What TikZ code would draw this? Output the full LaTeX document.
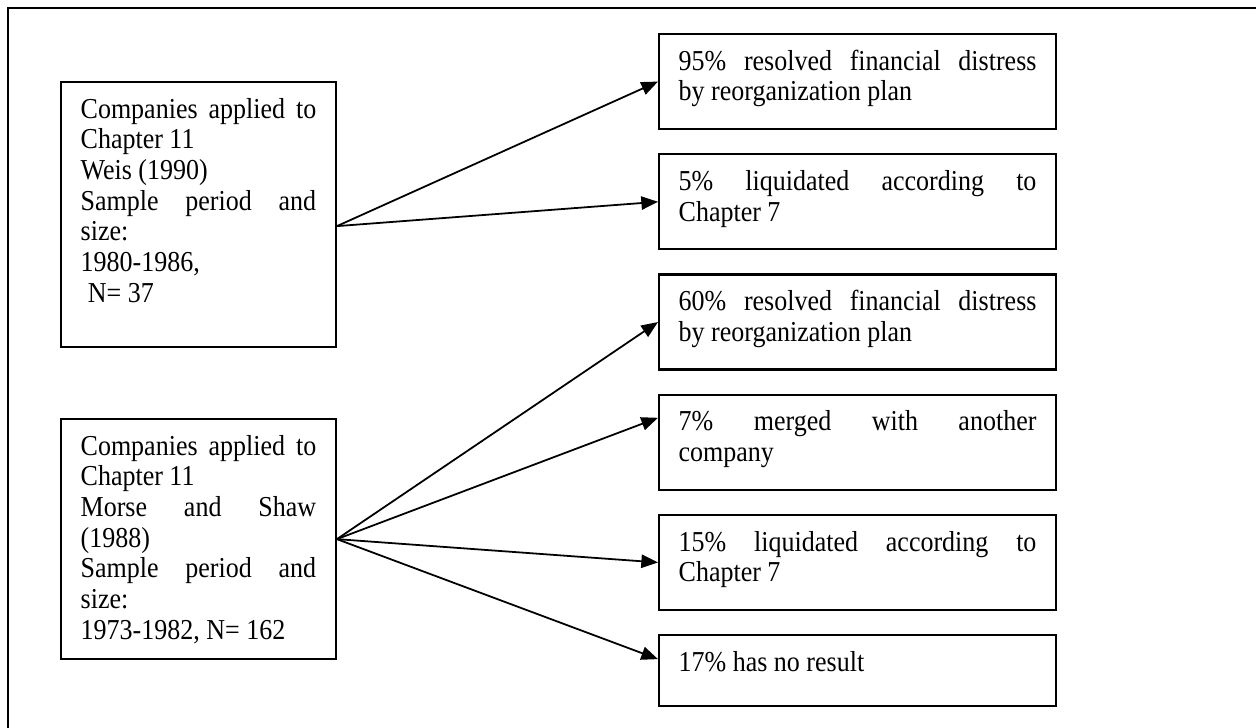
\documentclass[tikz,border=0pt]{standalone}
\usepackage{fontspec}
\setmainfont[FakeStretch=0.9]{Liberation Serif}
\usetikzlibrary{positioning,arrows.meta}
\tolerance=10000
\hyphenpenalty=10000

\begin{document}
\begin{tikzpicture}[x=0.45pt,y=-0.45pt,
    box/.style={draw,line width=1pt,anchor=north west,align=justify,inner xsep=8.8pt,inner ysep=7pt,text height=9.2pt,font=\fontsize{13pt}{13.8pt}\selectfont},
    srcbox/.style={box,text width=106pt},
    outbox/.style={box,text width=161pt},
    arr/.style={-{Triangle[length=7.5pt,width=6pt]},line width=0.8pt}]
    \useasboundingbox (0,0) rectangle (1256,727);
    \clip (0,0) rectangle (1256,727);
    \draw[line width=1pt] (8,8) rectangle (1300,800);
    \node[srcbox,text depth=96pt] (weis) at (60,81) {Companies applied to\linebreak Chapter 11\\ Weis (1990)\\ Sample period and\linebreak size:\\ 1980-1986,\\ \hspace*{.25em}N= 37};
    \node[srcbox,text depth=84.8pt] (morse) at (60,418) {Companies applied to\linebreak Chapter 11\\ Morse and Shaw\linebreak (1988)\\ Sample period and\linebreak size:\\ 1973-1982, N= 162};
    \node[outbox,text depth=19.5pt] (w95) at (658,33) {95\% resolved financial distress\linebreak by reorganization plan};
    \node[outbox,text depth=19.5pt,below=10.4pt of w95] (w5) {5\% liquidated according to\linebreak Chapter 7};
    \node[outbox,text depth=19.5pt,below=10.4pt of w5] (m60) {60\% resolved financial distress\linebreak by reorganization plan};
    \node[outbox,text depth=19.5pt,below=10.4pt of m60] (m7) {7\% merged with another\linebreak company};
    \node[outbox,text depth=19.5pt,below=10.4pt of m7] (m15) {15\% liquidated according to\linebreak Chapter 7};
    \node[outbox,text depth=8.7pt,below=10.4pt of m15] (m17) {17\% has no result};
    \draw[arr] ([yshift=-5.2pt]weis.east) -- (w95.west);
    \draw[arr] ([yshift=-5.2pt]weis.east) -- (w5.west);
    \draw[arr] (morse.east) -- (m60.west);
    \draw[arr] (morse.east) -- ([yshift=11pt]m7.west);
    \draw[arr] (morse.east) -- (m15.west);
    \draw[arr] (morse.east) -- ([yshift=5.2pt]m17.west);
\end{tikzpicture}
\end{document}
